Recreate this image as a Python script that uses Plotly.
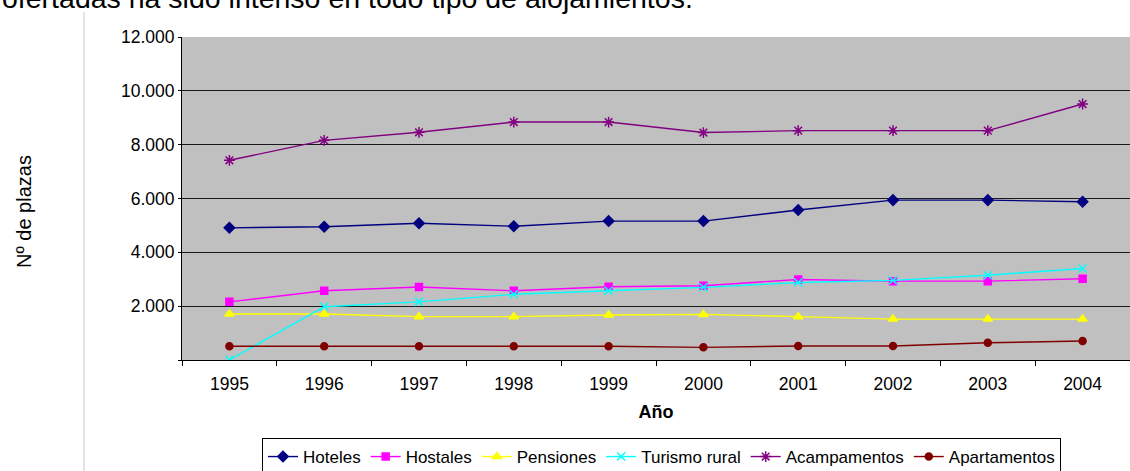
import plotly.graph_objects as go

years = ["1995", "1996", "1997", "1998", "1999", "2000", "2001", "2002", "2003", "2004"]

hoteles = [4910, 4950, 5080, 4970, 5160, 5160, 5570, 5940, 5940, 5880]
hostales = [2160, 2570, 2710, 2570, 2720, 2760, 2990, 2930, 2930, 3020]
pensiones = [1710, 1710, 1610, 1610, 1670, 1695, 1610, 1520, 1520, 1520]
turismo_rural = [0, 1980, 2160, 2440, 2570, 2700, 2880, 2960, 3150, 3400]
acampamentos = [7420, 8160, 8460, 8840, 8840, 8450, 8520, 8520, 8520, 9510]
apartamentos = [510, 510, 510, 510, 510, 470, 520, 520, 640, 705]

y_ticks = [0, 2000, 4000, 6000, 8000, 10000, 12000]
y_ticktext = ["", "2.000", "4.000", "6.000", "8.000", "10.000", "12.000"]

FONT = "Arial, Liberation Sans, sans-serif"

series = [
    ("Hoteles", hoteles, "#000080", "diamond", 8),
    ("Hostales", hostales, "#FF00FF", "square", 7),
    ("Pensiones", pensiones, "#FFFF00", "triangle-up", 8),
    ("Turismo rural", turismo_rural, "#00FFFF", "x-thin-open", 8),
    ("Acampamentos", acampamentos, "#800080", "asterisk-open", 9),
    ("Apartamentos", apartamentos, "#800000", "circle", 7),
]

fig = go.Figure()
for name, vals, color, symbol, size in series:
    fig.add_trace(go.Scatter(
        x=years, y=vals, name=name, mode="lines+markers",
        line=dict(color=color, width=1.4),
        marker=dict(symbol=symbol, size=size, color=color,
                    line=dict(color=color, width=1.5)),
    ))

fig.update_layout(
    width=1130, height=471,
    margin=dict(l=182, r=0, t=37, b=111, autoexpand=False),
    paper_bgcolor="white",
    plot_bgcolor="#C0C0C0",
    font=dict(family=FONT, color="black", size=17),
    showlegend=True,
    legend=dict(
        orientation="h",
        x=(262 - 182) / 948, xanchor="left",
        y=(360 - 438) / 323, yanchor="top",
        bordercolor="black", borderwidth=1, bgcolor="white",
        font=dict(size=17, family=FONT),
        itemwidth=30,
    ),
)

fig.update_xaxes(
    type="category",
    range=[-0.5, 9.5],
    tickson="boundaries",
    ticks="outside", ticklen=5, tickcolor="black",
    showline=True, linecolor="black", linewidth=1,
    showgrid=False,
    tickfont=dict(size=17.5),
    ticklabelstandoff=8,
    title=dict(text="<b>Año</b>", font=dict(size=18), standoff=12),
)

fig.update_yaxes(
    range=[0, 12000],
    tickvals=y_ticks, ticktext=y_ticktext,
    ticks="outside", ticklen=3, tickcolor="black",
    showline=True, linecolor="black", linewidth=1,
    showgrid=True, gridcolor="#1a1a1a", gridwidth=1,
    zeroline=False,
    tickfont=dict(size=17.5),
)

# y axis title placed like the original
fig.add_annotation(
    text="Nº de plazas", textangle=-90,
    xref="paper", yref="paper",
    x=(24 - 182) / 948, y=(360 - 212) / 323,
    xanchor="center", yanchor="middle",
    showarrow=False, font=dict(size=20),
)

# text from the page above the chart, partly cut off
fig.add_annotation(
    text="ofertadas ha sido intenso en todo tipo de alojamientos.",
    xref="paper", yref="paper",
    x=(0 - 182) / 948, y=(360 + 2) / 323,
    xanchor="left", yanchor="middle",
    showarrow=False, font=dict(size=28.5),
)

# page border line on the left
fig.add_shape(
    type="line", xref="paper", yref="paper",
    x0=(84 - 182) / 948, x1=(84 - 182) / 948,
    y0=(360 - 12) / 323, y1=(360 - 471) / 323,
    line=dict(color="#C8C8C8", width=1),
)

fig.write_html("out.html", config={"displayModeBar": False},
               post_script="document.body.style.margin='0';")
